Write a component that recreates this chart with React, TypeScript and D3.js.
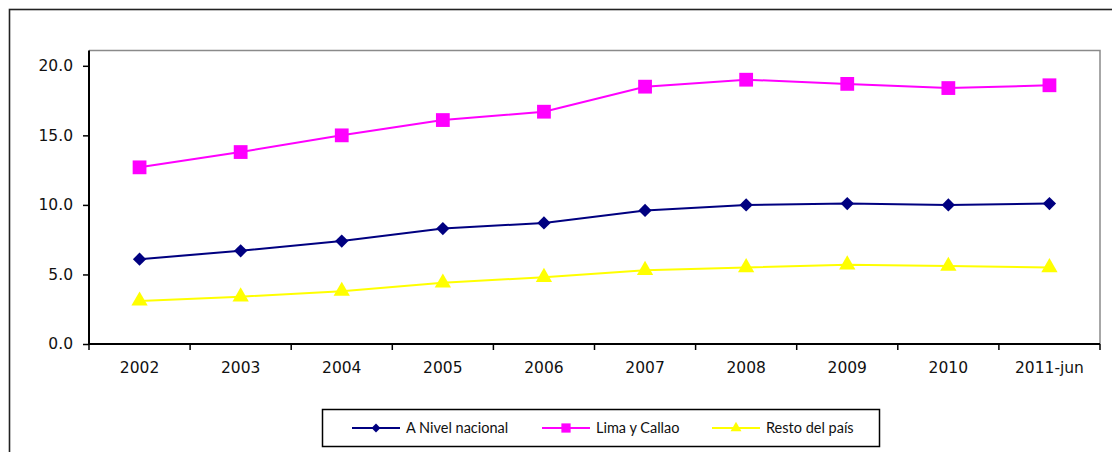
import { useEffect, useRef } from 'react'
import * as d3 from 'd3'

const categories = ['2002', '2003', '2004', '2005', '2006', '2007', '2008', '2009', '2010', '2011-jun']
const nacional = [6.1, 6.7, 7.4, 8.3, 8.7, 9.6, 10.0, 10.1, 10.0, 10.1]
const limaCallao = [12.7, 13.8, 15.0, 16.1, 16.7, 18.5, 19.0, 18.7, 18.4, 18.6]
const restoPais = [3.1, 3.4, 3.8, 4.4, 4.8, 5.3, 5.5, 5.7, 5.6, 5.5]
const yTicks = [0, 5, 10, 15, 20]

const series = [
  { name: 'A Nivel nacional', values: nacional, color: '#000080', marker: 'diamond' },
  { name: 'Lima y Callao', values: limaCallao, color: '#FF00FF', marker: 'square' },
  { name: 'Resto del país', values: restoPais, color: '#FFFF00', marker: 'triangle' }
]

const W = 1112
const H = 452

export default function App() {
  const svgRef = useRef<SVGSVGElement>(null)

  useEffect(() => {
    if (!svgRef.current) return
    const svg = d3.select(svgRef.current)
    svg.selectAll('*').remove()

    const left = 89
    const right = 1100
    const top = 50.5
    const bottom = 344

    // outer chart frame
    svg.append('rect')
      .attr('x', 9.5).attr('y', 9.5)
      .attr('width', 1110).attr('height', 460)
      .attr('fill', 'none').attr('stroke', '#222').attr('stroke-width', 1.6)

    const x = d3.scaleBand<string>().domain(categories).range([left, right])
    const y = d3.scaleLinear().domain([0, 21.1]).range([bottom, top])

    // plot area border (top/right grey)
    svg.append('path')
      .attr('d', `M${left},${top}H${right}V${bottom}`)
      .attr('fill', 'none').attr('stroke', '#8a8a8a').attr('stroke-width', 1.5)

    const font = '"DejaVu Sans", Verdana, sans-serif'

    // y axis
    const yAxis = svg.append('g').attr('transform', `translate(${left},0)`)
      .call(d3.axisLeft(y).tickValues(yTicks).tickSize(6).tickPadding(10).tickFormat(d3.format('.1f')))
    yAxis.select('.domain').remove()
    yAxis.selectAll('line').attr('stroke', '#000').attr('stroke-width', 1.5)
    yAxis.selectAll('text').attr('font-family', font).attr('font-size', 15.5).attr('fill', '#111')
    svg.append('line')
      .attr('x1', left).attr('x2', left).attr('y1', top).attr('y2', bottom + 1)
      .attr('stroke', '#000').attr('stroke-width', 2)

    // x axis
    const xg = svg.append('g').attr('transform', `translate(0,${bottom})`)
    xg.selectAll('line')
      .data(d3.range(categories.length + 1))
      .join('line')
      .attr('x1', i => left + i * x.step()).attr('x2', i => left + i * x.step())
      .attr('y1', 0).attr('y2', 6)
      .attr('stroke', '#000').attr('stroke-width', 1.5)
    xg.selectAll('text')
      .data(categories)
      .join('text')
      .attr('x', d => (x(d) as number) + x.bandwidth() / 2)
      .attr('y', 29)
      .attr('text-anchor', 'middle')
      .attr('font-family', font).attr('font-size', 15.5).attr('fill', '#111')
      .text(d => d)
    svg.append('line')
      .attr('x1', left - 1).attr('x2', right).attr('y1', bottom).attr('y2', bottom)
      .attr('stroke', '#000').attr('stroke-width', 2)

    // diamond = square turned 45deg
    const markerPath = (m: string, scale: number) =>
      m === 'diamond'
        ? (d3.symbol().type(d3.symbolSquare).size(88 * scale)() as string)
        : m === 'square'
          ? (d3.symbol().type(d3.symbolSquare).size(190 * scale)() as string)
          : (d3.symbol().type(d3.symbolTriangle).size(115 * scale)() as string)
    const rot = (m: string) => (m === 'diamond' ? ' rotate(45)' : '')

    const line = d3.line<number>()
      .x((_, i) => (x(categories[i]) as number) + x.bandwidth() / 2)
      .y(d => y(d))

    series.forEach(s => {
      svg.append('path')
        .attr('d', line(s.values))
        .attr('fill', 'none').attr('stroke', s.color).attr('stroke-width', 2)
      svg.append('g').selectAll('path')
        .data(s.values)
        .join('path')
        .attr('transform', (d, i) => `translate(${(x(categories[i]) as number) + x.bandwidth() / 2},${y(d)})${rot(s.marker)}`)
        .attr('d', markerPath(s.marker, 1))
        .attr('fill', s.color)
    })

    // legend
    const lg = svg.append('g')
    lg.append('rect')
      .attr('x', 322.5).attr('y', 409.5).attr('width', 557).attr('height', 37)
      .attr('fill', '#fff').attr('stroke', '#000').attr('stroke-width', 1.5)
    const legendX = [352, 542, 712]
    series.forEach((s, i) => {
      const lx = legendX[i]
      const ly = 428
      lg.append('line')
        .attr('x1', lx).attr('x2', lx + 48).attr('y1', ly).attr('y2', ly)
        .attr('stroke', s.color).attr('stroke-width', 2)
      lg.append('path')
        .attr('transform', `translate(${lx + 24},${ly})${rot(s.marker)}`)
        .attr('d', markerPath(s.marker, 0.45))
        .attr('fill', s.color)
      lg.append('text')
        .attr('x', lx + 54).attr('y', ly)
        .attr('dy', '0.35em')
        .attr('font-family', 'Lato, "Open Sans", sans-serif').attr('font-size', 14.5).attr('fill', '#111')
        .text(s.name)
    })
  }, [])

  return (
    <svg
      ref={svgRef}
      width={W}
      height={H}
      style={{ position: 'absolute', left: 0, top: 0, display: 'block', background: '#fff' }}
    />
  )
}
